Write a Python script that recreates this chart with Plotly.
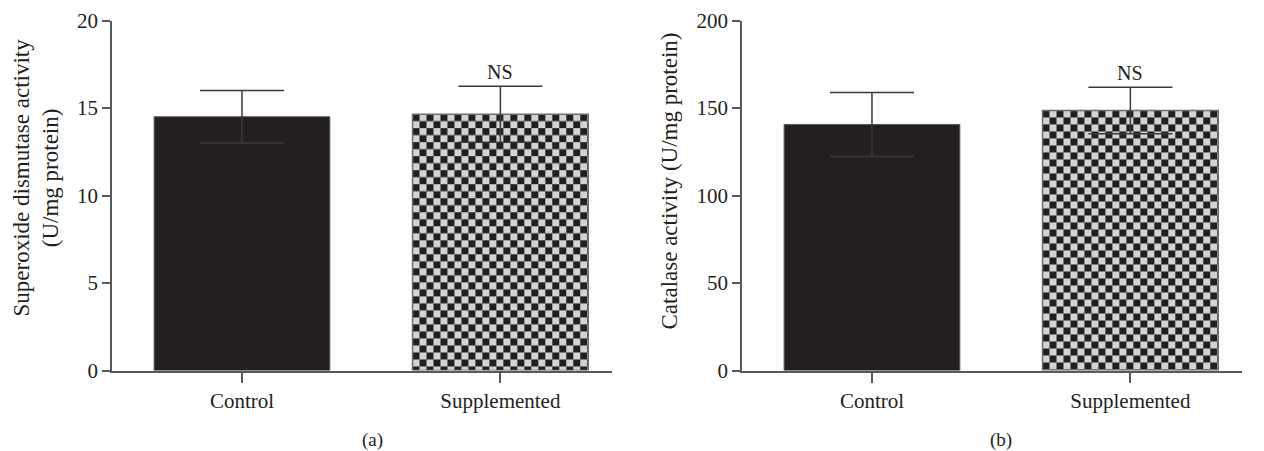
import base64
import plotly.graph_objects as go

# ---- data ----
categories = ["Control", "Supplemented"]
sod_mean = [14.5, 14.65]
sod_sd = [1.5, 1.6]
cat_mean = [140.6, 148.6]
cat_sd = [18.3, 13.3]
sod_ticks = [0, 5, 10, 15, 20]
cat_ticks = [0, 50, 100, 150, 200]
panel_labels = ["(a)", "(b)"]
sig_text = "NS"

W, H = 1264, 451
OFF_X = 8    # page body margin offset in the rendered screenshot
OFF_Y = 5.5
FONT = "Liberation Serif, Times New Roman, serif"
TXT = "#231f20"
AX = "#58595b"
DARK = "#231f20"
LIGHT = "#d1d3d4"
BAR_W = 0.68
TICK_FS = 21
TITLE_FS = 23


def px(xs):
    return (xs - OFF_X) / W


def py(ys):
    return (H - (ys - OFF_Y)) / H


xdom1 = [px(112), px(612)]
xdom2 = [px(742), px(1242)]
ydom = [py(368), py(18)]
xrange_ = [-0.503, 1.432]


def checker_uri(wpx, hpx, cell=7):
    wpx, hpx = int(round(wpx)), int(round(hpx))
    svg = (
        f"<svg xmlns='http://www.w3.org/2000/svg' width='{wpx}' height='{hpx}' "
        f"viewBox='0 0 {wpx} {hpx}' preserveAspectRatio='none'>"
        f"<defs><pattern id='p' width='{2*cell}' height='{2*cell}' patternUnits='userSpaceOnUse'>"
        f"<rect width='{2*cell}' height='{2*cell}' fill='{LIGHT}'/>"
        f"<rect width='{cell}' height='{cell}' fill='{DARK}'/>"
        f"<rect x='{cell}' y='{cell}' width='{cell}' height='{cell}' fill='{DARK}'/>"
        f"</pattern></defs><rect width='{wpx}' height='{hpx}' fill='url(#p)'/></svg>"
    )
    return "data:image/svg+xml;base64," + base64.b64encode(svg.encode()).decode()


fig = go.Figure()
images = []
annotations = []

panels = [
    (sod_mean, sod_sd, sod_ticks, "x", "y", xdom1, 372),
    (cat_mean, cat_sd, cat_ticks, "x2", "y2", xdom2, 1001),
]
xpos = list(range(len(categories)))

for i, (mean, sd, ticks, xa, ya, xdom, lab_x) in enumerate(panels):
    ymax = ticks[-1]
    fig.add_trace(go.Bar(
        x=[xpos[0]], y=[mean[0]], width=BAR_W, xaxis=xa, yaxis=ya,
        marker=dict(color=DARK, line=dict(color=AX, width=1)),
        error_y=dict(type="data", array=[sd[0]], visible=True,
                     color="#3a3a3a", thickness=1.5, width=42),
        showlegend=False,
    ))
    fig.add_trace(go.Bar(
        x=[xpos[1]], y=[mean[1]], width=BAR_W, xaxis=xa, yaxis=ya,
        marker=dict(color="rgba(0,0,0,0)", line=dict(color="#6d6e71", width=1.5)),
        error_y=dict(type="data", array=[sd[1]], visible=True,
                     color="#3a3a3a", thickness=1.5, width=42),
        showlegend=False,
    ))
    px_per_x = (xdom[1] - xdom[0]) * W / (xrange_[1] - xrange_[0])
    px_per_y = (ydom[1] - ydom[0]) * H / ymax
    images.append(dict(
        source=checker_uri(BAR_W * px_per_x, mean[1] * px_per_y),
        xref=xa, yref=ya, x=xpos[1] - BAR_W / 2, y=mean[1],
        sizex=BAR_W, sizey=mean[1], sizing="stretch",
        xanchor="left", yanchor="top", layer="below",
    ))
    annotations.append(dict(
        xref=xa, yref=ya, x=xpos[1], y=mean[1] + sd[1], text=sig_text,
        showarrow=False, yanchor="bottom", yshift=1,
        font=dict(family=FONT, size=20, color=TXT),
    ))
    annotations.append(dict(
        xref="paper", yref="paper", x=px(lab_x), y=py(437),
        text=panel_labels[i], showarrow=False,
        xanchor="center", yanchor="middle",
        font=dict(family=FONT, size=19, color=TXT),
    ))

annotations.append(dict(
    xref="paper", yref="paper", x=px(36), y=py(175),
    text="Superoxide dismutase activity<br>(U/mg protein)", textangle=-90,
    showarrow=False, xanchor="center", yanchor="middle",
    font=dict(family=FONT, size=TITLE_FS, color=TXT),
))
annotations.append(dict(
    xref="paper", yref="paper", x=px(669), y=py(179),
    text="Catalase activity (U/mg protein)", textangle=-90,
    showarrow=False, xanchor="center", yanchor="middle",
    font=dict(family=FONT, size=TITLE_FS, color=TXT),
))

xaxis_common = dict(
    range=xrange_, tickvals=xpos, ticktext=categories, showline=True,
    linecolor=AX, linewidth=1.5, ticks="outside", ticklen=11, tickwidth=1.5,
    tickcolor=AX, showgrid=False, zeroline=False, fixedrange=True,
    automargin=False, ticklabeloverflow="allow",
    tickfont=dict(family=FONT, size=TICK_FS, color=TXT),
)
yaxis_common = dict(
    showline=True, linecolor=AX, linewidth=1.5, ticks="outside", ticklen=8,
    tickwidth=1.5, tickcolor=AX, showgrid=False, zeroline=False,
    automargin=False, fixedrange=True, ticklabeloverflow="allow",
    tickfont=dict(family=FONT, size=TICK_FS, color=TXT), domain=ydom,
)

fig.update_layout(
    template="none",
    width=W, height=H, margin=dict(l=0, r=0, t=0, b=0, pad=0), autosize=False,
    paper_bgcolor="white", plot_bgcolor="white", barmode="overlay",
    showlegend=False,
    xaxis=dict(xaxis_common, domain=xdom1, anchor="y"),
    yaxis=dict(yaxis_common, range=[0, sod_ticks[-1]], tickvals=sod_ticks, anchor="x"),
    xaxis2=dict(xaxis_common, domain=xdom2, anchor="y2"),
    yaxis2=dict(yaxis_common, range=[0, cat_ticks[-1]], tickvals=cat_ticks, anchor="x2"),
    images=images, annotations=annotations,
)

fig.write_html("out.html")
